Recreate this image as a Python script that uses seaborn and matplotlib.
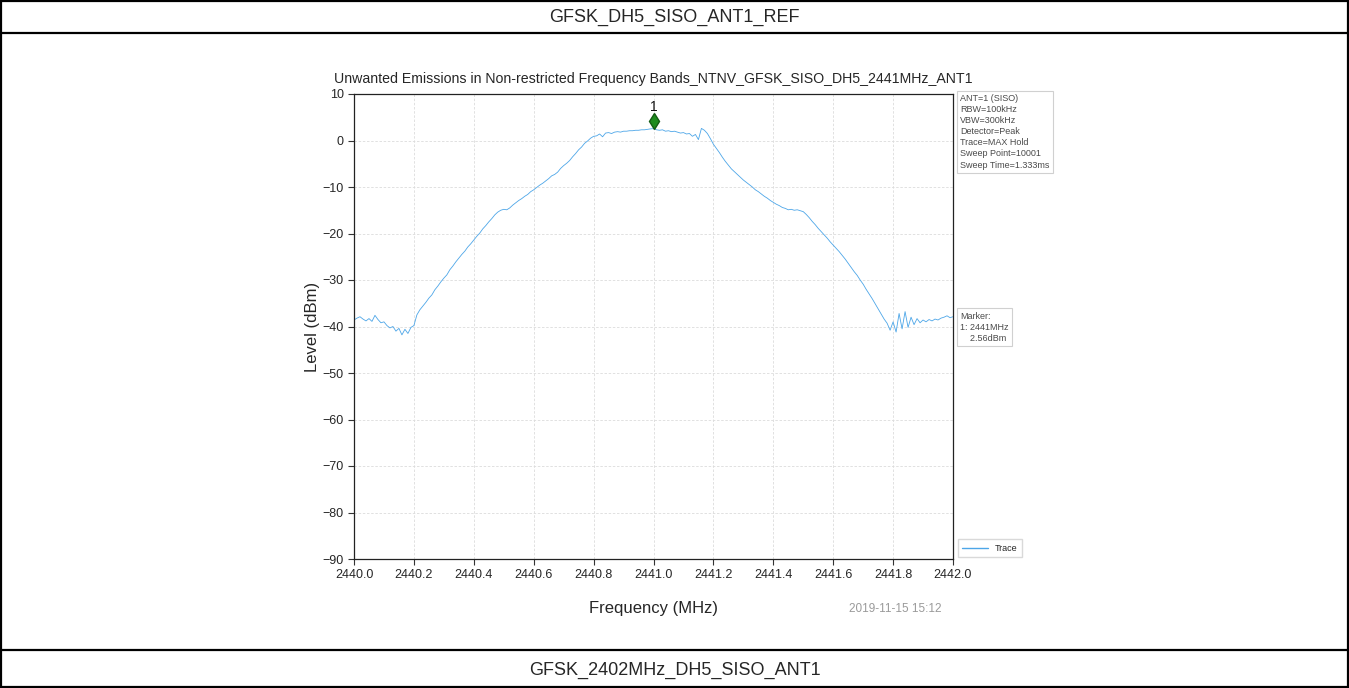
import numpy as np
import pandas as pd
import matplotlib
matplotlib.use("Agg")
import matplotlib.pyplot as plt
import matplotlib.transforms as mtransforms
from matplotlib.lines import Line2D
import seaborn as sns

# ---- spectrum trace (MHz, dBm), sampled every 10 kHz ----
freq_start = 2440.00
freq_step = 0.01
level_dbm = [
    -38.6, -38.2, -37.9, -38.4, -38.8, -38.3, -38.9, -37.6, -38.5, -39.2,
    -39.0, -39.8, -40.3, -40.0, -41.0, -40.4, -41.8, -40.6, -41.5, -40.2,
    -39.8, -37.5, -36.4, -35.6, -34.8, -33.9, -33.2, -32.1, -31.3, -30.4,
    -29.6, -28.9, -27.8, -27.0, -26.1, -25.3, -24.5, -23.8, -22.9, -22.2,
    -21.4, -20.6, -19.9, -19.0, -18.3, -17.5, -16.8, -16.0, -15.4, -15.0,
    -14.8, -14.9, -14.5, -13.9, -13.4, -12.9, -12.5, -12.0, -11.6, -11.0,
    -10.6, -10.1, -9.6, -9.2, -8.7, -8.2, -7.6, -7.3, -6.8, -6.0,
    -5.4, -4.9, -4.3, -3.5, -2.8, -2.0, -1.4, -0.6, -0.1, 0.5,
    0.9, 1.0, 1.4, 0.8, 1.6, 1.7, 1.5, 1.8, 1.9, 1.8,
    2.0, 2.0, 2.1, 2.1, 2.2, 2.2, 2.3, 2.3, 2.4, 2.5,
    2.56, 2.3, 2.2, 2.3, 2.0, 2.1, 1.9, 2.0, 1.8, 1.6,
    1.7, 1.4, 1.5, 0.9, 1.3, 0.2, 2.6, 2.2, 1.5, 0.4,
    -0.8, -1.7, -2.6, -3.6, -4.5, -5.3, -6.1, -6.7, -7.3, -7.9,
    -8.5, -9.0, -9.5, -10.0, -10.6, -11.0, -11.5, -12.0, -12.4, -12.9,
    -13.3, -13.7, -14.0, -14.4, -14.6, -14.9, -14.8, -15.0, -14.9, -15.1,
    -15.3, -15.9, -16.6, -17.4, -18.1, -18.9, -19.6, -20.3, -21.0, -21.8,
    -22.5, -23.2, -23.9, -24.7, -25.5, -26.4, -27.3, -28.2, -29.0, -30.0,
    -30.9, -32.0, -33.0, -34.0, -35.1, -36.2, -37.3, -38.4, -39.3, -40.8,
    -39.0, -41.2, -37.2, -40.5, -36.8, -40.2, -38.0, -39.6, -38.3, -39.2,
    -38.6, -39.0, -38.5, -38.8, -38.4, -38.6, -38.2, -38.0, -37.7, -38.1,
    -37.9,
]

x_ticks = [2440.0, 2440.2, 2440.4, 2440.6, 2440.8, 2441.0,
           2441.2, 2441.4, 2441.6, 2441.8, 2442.0]
y_ticks = [10, 0, -10, -20, -30, -40, -50, -60, -70, -80, -90]

marker_freq = 2441.0
marker_level = 2.56

settings_lines = ["ANT=1 (SISO)", "RBW=100kHz", "VBW=300kHz", "Detector=Peak",
                  "Trace=MAX Hold", "Sweep Point=10001", "Sweep Time=1.333ms"]

header_text = "GFSK_DH5_SISO_ANT1_REF"
footer_text = "GFSK_2402MHz_DH5_SISO_ANT1"
chart_title = ("Unwanted Emissions in Non-restricted Frequency Bands_"
               "NTNV_GFSK_SISO_DH5_2441MHz_ANT1")
timestamp = "2019-11-15 15:12"

freqs = [round(freq_start + i * freq_step, 2) for i in range(len(level_dbm))]
df = pd.DataFrame({"Frequency (MHz)": freqs, "Level (dBm)": level_dbm})

sns.set_style("white")
plt.rcParams["font.family"] = ["Liberation Sans", "DejaVu Sans"]

W, H = 1349, 688
fig = plt.figure(figsize=(W / 100, H / 100), dpi=100)
fig.patch.set_facecolor("white")

# plot area in pixel coordinates
left_px, right_px, top_px, bottom_px = 354, 953, 94, 559
ax = fig.add_axes([left_px / W, 1 - bottom_px / H,
                   (right_px - left_px) / W, (bottom_px - top_px) / H])

trace_color = "#4da6e8"
sns.lineplot(data=df, x="Frequency (MHz)", y="Level (dBm)", ax=ax,
             color=trace_color, linewidth=0.6, label="Trace", legend=False)

ax.set_xlim(2440.0, 2442.0)
ax.set_ylim(-90, 10)
ax.set_xticks(x_ticks)
ax.set_xticklabels([f"{t:.1f}" for t in x_ticks])
ax.set_yticks(y_ticks)
ax.tick_params(axis="both", labelsize=9, direction="out", length=4,
               width=0.8, color="#333333", bottom=True, left=True)
ax.grid(True, color="#dcdcdc", linestyle=(0, (3, 2)), linewidth=0.6)
for s in ax.spines.values():
    s.set_visible(True)
    s.set_color("#222222")
    s.set_linewidth(0.9)

ax.set_xlabel("Frequency (MHz)", fontsize=12, labelpad=14)
ax.set_ylabel("Level (dBm)", fontsize=12, labelpad=2)
ax.set_title(chart_title, fontsize=10.2, pad=8)

# peak marker, drawn a little above the trace point
lift = mtransforms.offset_copy(ax.transData, fig=fig, x=0, y=8, units="dots")
ax.plot([marker_freq], [marker_level], marker="d", markersize=8,
        color="#1e8c1e", markeredgecolor="#145c14", linestyle="none",
        transform=lift, zorder=5)
lift2 = mtransforms.offset_copy(ax.transData, fig=fig, x=0, y=15, units="dots")
ax.text(marker_freq, marker_level, "1", transform=lift2, ha="center",
        va="bottom", fontsize=10, color="#111111")

box_style = dict(boxstyle="square,pad=0.35", fc="white", ec="#d0d0d0", lw=0.8)
ax.text(1.012, 1.0, "\n".join(settings_lines), transform=ax.transAxes,
        ha="left", va="top", fontsize=6.5, color="#4a4a4a",
        linespacing=1.3, bbox=box_style)
ax.text(1.012, 0.532,
        f"Marker:\n1: {marker_freq:.0f}MHz\n    {marker_level:.2f}dBm",
        transform=ax.transAxes, ha="left", va="top", fontsize=6.5,
        color="#4a4a4a", linespacing=1.3, bbox=box_style)

ax.legend(handles=[Line2D([], [], color=trace_color, lw=1.0)],
          labels=["Trace"], loc="lower left", bbox_to_anchor=(1.005, 0.0),
          fontsize=6.5, frameon=True, edgecolor="#d0d0d0", fancybox=False,
          handlelength=2.8, borderpad=0.5, borderaxespad=0.2)

fig.text(895 / W, 1 - 609 / H, timestamp, ha="center", va="center",
         fontsize=8.5, color="#9a9a9a")

# surrounding table frame with header and footer rows
frame_kw = dict(color="black", linewidth=1.6, transform=fig.transFigure)
for y_px in (1, 33, 650, 687):
    fig.add_artist(Line2D([0, 1], [1 - y_px / H] * 2, **frame_kw))
fig.add_artist(Line2D([1 / W] * 2, [0, 1], **frame_kw))
fig.add_artist(Line2D([1 - 1 / W] * 2, [0, 1], **frame_kw))
fig.text(0.5, 1 - 17 / H, header_text, ha="center", va="center", fontsize=13)
fig.text(0.5, 1 - 670 / H, footer_text, ha="center", va="center", fontsize=13)

fig.savefig("out.png", dpi=100, facecolor="white")
